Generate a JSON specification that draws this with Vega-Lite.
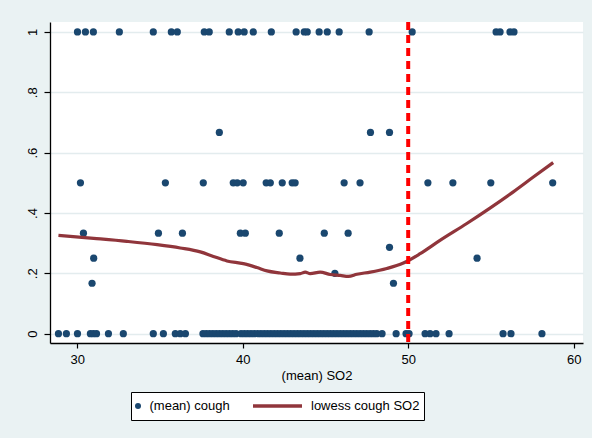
{
  "$schema": "https://vega.github.io/schema/vega-lite/v6.json",
  "width": 533,
  "height": 321,
  "autosize": "none",
  "padding": {"left": 50, "top": 22, "right": 9, "bottom": 95},
  "background": "#eaf2f3",
  "config": {
    "view": {"fill": "white", "stroke": null},
    "font": "Liberation Sans",
    "axis": {"labelFont": "Liberation Sans", "titleFont": "Liberation Sans", "labelFontSize": 13, "titleFontSize": 13, "titleFontWeight": "normal", "labelColor": "black", "titleColor": "black", "domainColor": "black", "tickColor": "black", "domainWidth": 1.3, "tickWidth": 1.2}
  },
  "datasets": {
    "points": [
      {"so2": 30.02, "cough": 1, "series": "(mean) cough"},
      {"so2": 30.50, "cough": 1, "series": "(mean) cough"},
      {"so2": 30.98, "cough": 1, "series": "(mean) cough"},
      {"so2": 32.55, "cough": 1, "series": "(mean) cough"},
      {"so2": 34.60, "cough": 1, "series": "(mean) cough"},
      {"so2": 35.69, "cough": 1, "series": "(mean) cough"},
      {"so2": 36.05, "cough": 1, "series": "(mean) cough"},
      {"so2": 37.68, "cough": 1, "series": "(mean) cough"},
      {"so2": 37.98, "cough": 1, "series": "(mean) cough"},
      {"so2": 39.19, "cough": 1, "series": "(mean) cough"},
      {"so2": 39.73, "cough": 1, "series": "(mean) cough"},
      {"so2": 40.09, "cough": 1, "series": "(mean) cough"},
      {"so2": 40.64, "cough": 1, "series": "(mean) cough"},
      {"so2": 41.73, "cough": 1, "series": "(mean) cough"},
      {"so2": 43.23, "cough": 1, "series": "(mean) cough"},
      {"so2": 43.72, "cough": 1, "series": "(mean) cough"},
      {"so2": 43.90, "cough": 1, "series": "(mean) cough"},
      {"so2": 44.62, "cough": 1, "series": "(mean) cough"},
      {"so2": 45.11, "cough": 1, "series": "(mean) cough"},
      {"so2": 45.83, "cough": 1, "series": "(mean) cough"},
      {"so2": 47.64, "cough": 1, "series": "(mean) cough"},
      {"so2": 50.24, "cough": 1, "series": "(mean) cough"},
      {"so2": 55.31, "cough": 1, "series": "(mean) cough"},
      {"so2": 55.55, "cough": 1, "series": "(mean) cough"},
      {"so2": 56.15, "cough": 1, "series": "(mean) cough"},
      {"so2": 56.39, "cough": 1, "series": "(mean) cough"},
      {"so2": 38.59, "cough": 0.667, "series": "(mean) cough"},
      {"so2": 47.72, "cough": 0.667, "series": "(mean) cough"},
      {"so2": 48.87, "cough": 0.667, "series": "(mean) cough"},
      {"so2": 30.20, "cough": 0.5, "series": "(mean) cough"},
      {"so2": 35.33, "cough": 0.5, "series": "(mean) cough"},
      {"so2": 37.62, "cough": 0.5, "series": "(mean) cough"},
      {"so2": 39.43, "cough": 0.5, "series": "(mean) cough"},
      {"so2": 39.67, "cough": 0.5, "series": "(mean) cough"},
      {"so2": 40.03, "cough": 0.5, "series": "(mean) cough"},
      {"so2": 41.42, "cough": 0.5, "series": "(mean) cough"},
      {"so2": 41.67, "cough": 0.5, "series": "(mean) cough"},
      {"so2": 42.39, "cough": 0.5, "series": "(mean) cough"},
      {"so2": 42.99, "cough": 0.5, "series": "(mean) cough"},
      {"so2": 43.17, "cough": 0.5, "series": "(mean) cough"},
      {"so2": 46.13, "cough": 0.5, "series": "(mean) cough"},
      {"so2": 47.09, "cough": 0.5, "series": "(mean) cough"},
      {"so2": 51.19, "cough": 0.5, "series": "(mean) cough"},
      {"so2": 52.70, "cough": 0.5, "series": "(mean) cough"},
      {"so2": 54.99, "cough": 0.5, "series": "(mean) cough"},
      {"so2": 58.73, "cough": 0.5, "series": "(mean) cough"},
      {"so2": 30.38, "cough": 0.333, "series": "(mean) cough"},
      {"so2": 34.91, "cough": 0.333, "series": "(mean) cough"},
      {"so2": 36.36, "cough": 0.333, "series": "(mean) cough"},
      {"so2": 39.86, "cough": 0.333, "series": "(mean) cough"},
      {"so2": 40.16, "cough": 0.333, "series": "(mean) cough"},
      {"so2": 42.21, "cough": 0.333, "series": "(mean) cough"},
      {"so2": 44.93, "cough": 0.333, "series": "(mean) cough"},
      {"so2": 46.37, "cough": 0.333, "series": "(mean) cough"},
      {"so2": 48.87, "cough": 0.286, "series": "(mean) cough"},
      {"so2": 31.00, "cough": 0.25, "series": "(mean) cough"},
      {"so2": 43.46, "cough": 0.25, "series": "(mean) cough"},
      {"so2": 54.16, "cough": 0.25, "series": "(mean) cough"},
      {"so2": 45.57, "cough": 0.2, "series": "(mean) cough"},
      {"so2": 30.90, "cough": 0.167, "series": "(mean) cough"},
      {"so2": 49.11, "cough": 0.167, "series": "(mean) cough"},
      {"so2": 28.87, "cough": 0, "series": "(mean) cough"},
      {"so2": 29.35, "cough": 0, "series": "(mean) cough"},
      {"so2": 30.02, "cough": 0, "series": "(mean) cough"},
      {"so2": 30.80, "cough": 0, "series": "(mean) cough"},
      {"so2": 30.98, "cough": 0, "series": "(mean) cough"},
      {"so2": 31.17, "cough": 0, "series": "(mean) cough"},
      {"so2": 31.89, "cough": 0, "series": "(mean) cough"},
      {"so2": 32.79, "cough": 0, "series": "(mean) cough"},
      {"so2": 34.60, "cough": 0, "series": "(mean) cough"},
      {"so2": 35.21, "cough": 0, "series": "(mean) cough"},
      {"so2": 35.93, "cough": 0, "series": "(mean) cough"},
      {"so2": 36.23, "cough": 0, "series": "(mean) cough"},
      {"so2": 36.54, "cough": 0, "series": "(mean) cough"},
      {"so2": 37.6, "cough": 0, "series": "(mean) cough"},
      {"so2": 37.8, "cough": 0, "series": "(mean) cough"},
      {"so2": 38.0, "cough": 0, "series": "(mean) cough"},
      {"so2": 38.2, "cough": 0, "series": "(mean) cough"},
      {"so2": 38.4, "cough": 0, "series": "(mean) cough"},
      {"so2": 38.6, "cough": 0, "series": "(mean) cough"},
      {"so2": 38.8, "cough": 0, "series": "(mean) cough"},
      {"so2": 39.0, "cough": 0, "series": "(mean) cough"},
      {"so2": 39.2, "cough": 0, "series": "(mean) cough"},
      {"so2": 39.4, "cough": 0, "series": "(mean) cough"},
      {"so2": 39.6, "cough": 0, "series": "(mean) cough"},
      {"so2": 39.9, "cough": 0, "series": "(mean) cough"},
      {"so2": 40.1, "cough": 0, "series": "(mean) cough"},
      {"so2": 40.3, "cough": 0, "series": "(mean) cough"},
      {"so2": 40.5, "cough": 0, "series": "(mean) cough"},
      {"so2": 40.7, "cough": 0, "series": "(mean) cough"},
      {"so2": 40.9, "cough": 0, "series": "(mean) cough"},
      {"so2": 41.1, "cough": 0, "series": "(mean) cough"},
      {"so2": 41.3, "cough": 0, "series": "(mean) cough"},
      {"so2": 41.5, "cough": 0, "series": "(mean) cough"},
      {"so2": 41.7, "cough": 0, "series": "(mean) cough"},
      {"so2": 41.9, "cough": 0, "series": "(mean) cough"},
      {"so2": 42.1, "cough": 0, "series": "(mean) cough"},
      {"so2": 42.3, "cough": 0, "series": "(mean) cough"},
      {"so2": 42.5, "cough": 0, "series": "(mean) cough"},
      {"so2": 42.7, "cough": 0, "series": "(mean) cough"},
      {"so2": 42.9, "cough": 0, "series": "(mean) cough"},
      {"so2": 43.1, "cough": 0, "series": "(mean) cough"},
      {"so2": 43.3, "cough": 0, "series": "(mean) cough"},
      {"so2": 43.5, "cough": 0, "series": "(mean) cough"},
      {"so2": 43.7, "cough": 0, "series": "(mean) cough"},
      {"so2": 43.9, "cough": 0, "series": "(mean) cough"},
      {"so2": 44.1, "cough": 0, "series": "(mean) cough"},
      {"so2": 44.3, "cough": 0, "series": "(mean) cough"},
      {"so2": 44.5, "cough": 0, "series": "(mean) cough"},
      {"so2": 44.7, "cough": 0, "series": "(mean) cough"},
      {"so2": 44.9, "cough": 0, "series": "(mean) cough"},
      {"so2": 45.1, "cough": 0, "series": "(mean) cough"},
      {"so2": 45.3, "cough": 0, "series": "(mean) cough"},
      {"so2": 45.5, "cough": 0, "series": "(mean) cough"},
      {"so2": 45.7, "cough": 0, "series": "(mean) cough"},
      {"so2": 45.9, "cough": 0, "series": "(mean) cough"},
      {"so2": 46.1, "cough": 0, "series": "(mean) cough"},
      {"so2": 46.3, "cough": 0, "series": "(mean) cough"},
      {"so2": 46.5, "cough": 0, "series": "(mean) cough"},
      {"so2": 46.7, "cough": 0, "series": "(mean) cough"},
      {"so2": 46.9, "cough": 0, "series": "(mean) cough"},
      {"so2": 47.1, "cough": 0, "series": "(mean) cough"},
      {"so2": 47.3, "cough": 0, "series": "(mean) cough"},
      {"so2": 47.5, "cough": 0, "series": "(mean) cough"},
      {"so2": 47.7, "cough": 0, "series": "(mean) cough"},
      {"so2": 47.9, "cough": 0, "series": "(mean) cough"},
      {"so2": 48.1, "cough": 0, "series": "(mean) cough"},
      {"so2": 48.42, "cough": 0, "series": "(mean) cough"},
      {"so2": 49.27, "cough": 0, "series": "(mean) cough"},
      {"so2": 49.87, "cough": 0, "series": "(mean) cough"},
      {"so2": 50.05, "cough": 0, "series": "(mean) cough"},
      {"so2": 51.02, "cough": 0, "series": "(mean) cough"},
      {"so2": 51.32, "cough": 0, "series": "(mean) cough"},
      {"so2": 51.68, "cough": 0, "series": "(mean) cough"},
      {"so2": 52.47, "cough": 0, "series": "(mean) cough"},
      {"so2": 55.73, "cough": 0, "series": "(mean) cough"},
      {"so2": 56.21, "cough": 0, "series": "(mean) cough"},
      {"so2": 58.08, "cough": 0, "series": "(mean) cough"}
    ],
    "lowess": [
      {"so2": 28.87, "cough": 0.326, "series": "lowess cough SO2"},
      {"so2": 31.0, "cough": 0.316, "series": "lowess cough SO2"},
      {"so2": 33.0, "cough": 0.306, "series": "lowess cough SO2"},
      {"so2": 34.83, "cough": 0.295, "series": "lowess cough SO2"},
      {"so2": 36.23, "cough": 0.284, "series": "lowess cough SO2"},
      {"so2": 37.44, "cough": 0.271, "series": "lowess cough SO2"},
      {"so2": 38.23, "cough": 0.256, "series": "lowess cough SO2"},
      {"so2": 39.05, "cough": 0.241, "series": "lowess cough SO2"},
      {"so2": 40.04, "cough": 0.232, "series": "lowess cough SO2"},
      {"so2": 40.86, "cough": 0.219, "series": "lowess cough SO2"},
      {"so2": 41.47, "cough": 0.208, "series": "lowess cough SO2"},
      {"so2": 42.27, "cough": 0.201, "series": "lowess cough SO2"},
      {"so2": 42.87, "cough": 0.197, "series": "lowess cough SO2"},
      {"so2": 43.48, "cough": 0.199, "series": "lowess cough SO2"},
      {"so2": 43.78, "cough": 0.204, "series": "lowess cough SO2"},
      {"so2": 44.08, "cough": 0.199, "series": "lowess cough SO2"},
      {"so2": 44.68, "cough": 0.204, "series": "lowess cough SO2"},
      {"so2": 45.29, "cough": 0.196, "series": "lowess cough SO2"},
      {"so2": 45.89, "cough": 0.193, "series": "lowess cough SO2"},
      {"so2": 46.39, "cough": 0.19, "series": "lowess cough SO2"},
      {"so2": 46.9, "cough": 0.197, "series": "lowess cough SO2"},
      {"so2": 47.71, "cough": 0.204, "series": "lowess cough SO2"},
      {"so2": 48.71, "cough": 0.216, "series": "lowess cough SO2"},
      {"so2": 49.71, "cough": 0.234, "series": "lowess cough SO2"},
      {"so2": 50.72, "cough": 0.265, "series": "lowess cough SO2"},
      {"so2": 51.92, "cough": 0.309, "series": "lowess cough SO2"},
      {"so2": 53.54, "cough": 0.365, "series": "lowess cough SO2"},
      {"so2": 54.94, "cough": 0.416, "series": "lowess cough SO2"},
      {"so2": 56.35, "cough": 0.47, "series": "lowess cough SO2"},
      {"so2": 57.56, "cough": 0.519, "series": "lowess cough SO2"},
      {"so2": 58.76, "cough": 0.567, "series": "lowess cough SO2"}
    ],
    "cutoff": [{"so2": 50}]
  },
  "layer": [
    {
      "data": {"name": "points"},
      "mark": {"type": "point", "filled": true, "size": 52, "opacity": 1},
      "encoding": {
        "x": {"field": "so2", "type": "quantitative", "scale": {"domain": [28.36, 60.56], "nice": false, "zero": false},
          "axis": {"title": "(mean) SO2", "values": [30, 40, 50, 60], "grid": false, "tickSize": 5, "labelPadding": 5, "titlePadding": 3}},
        "y": {"field": "cough", "type": "quantitative", "scale": {"domain": [-0.031, 1.033], "nice": false, "zero": false},
          "axis": {"title": null, "values": [0, 0.2, 0.4, 0.6, 0.8, 1], "grid": true, "gridColor": "#e3ecee", "gridWidth": 1.3, "tickSize": 6, "labelAngle": -90, "labelAlign": "center", "labelBaseline": "bottom", "labelPadding": 5,
            "labelExpr": "datum.value == 0 ? '0' : datum.value == 1 ? '1' : '.' + round(datum.value * 10)"}},
        "color": {"field": "series", "type": "nominal",
          "scale": {"domain": ["(mean) cough", "lowess cough SO2"], "range": ["#1a476f", "#90353b"]},
          "legend": {"orient": "none", "legendX": 81, "legendY": 370, "direction": "horizontal", "title": null,
            "fillColor": "white", "strokeColor": "black", "padding": 4, "labelFontSize": 13, "labelFont": "Liberation Sans", "labelColor": "black",
            "columnPadding": 23, "clipHeight": 20,
            "symbolType": {"expr": "datum.value == 'lowess cough SO2' ? 'stroke' : 'circle'"},
            "symbolSize": {"expr": "datum.value == 'lowess cough SO2' ? 2401 : 36"},
            "symbolStrokeWidth": {"expr": "datum.value == 'lowess cough SO2' ? 3.5 : 0"},
            "symbolOffset": {"expr": "datum.value == 'lowess cough SO2' ? 18 : -3.5"},
            "labelOffset": {"expr": "datum.value == 'lowess cough SO2' ? 27 : 5"}}}
      }
    },
    {
      "data": {"name": "lowess"},
      "mark": {"type": "line", "strokeWidth": 3.2, "interpolate": "monotone"},
      "encoding": {
        "x": {"field": "so2", "type": "quantitative"},
        "y": {"field": "cough", "type": "quantitative"},
        "color": {"field": "series", "type": "nominal"}
      }
    },
    {
      "data": {"name": "cutoff"},
      "mark": {"type": "rule", "color": "#ff0000", "strokeWidth": 4, "strokeDash": [8, 5]},
      "encoding": {"x": {"field": "so2", "type": "quantitative"}}
    }
  ]
}
